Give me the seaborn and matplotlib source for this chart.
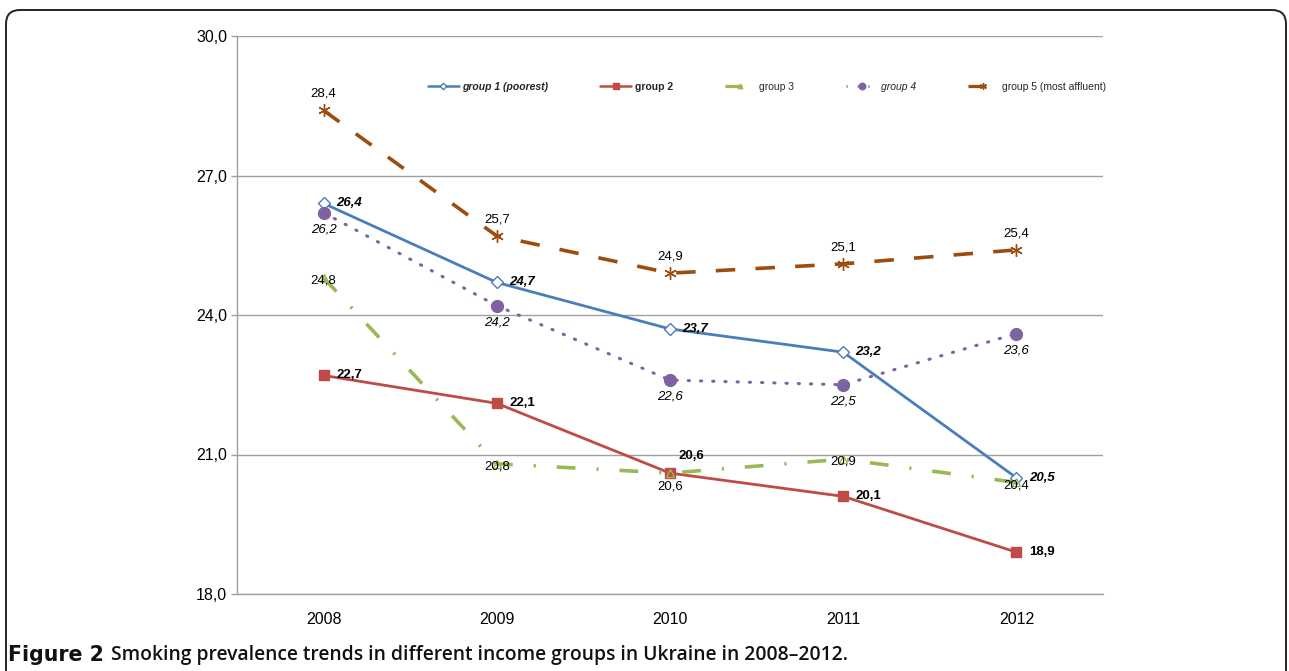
import matplotlib
matplotlib.use("Agg")
import matplotlib.pyplot as plt
from matplotlib.lines import Line2D
from matplotlib.patches import FancyBboxPatch
from matplotlib.transforms import IdentityTransform
from matplotlib.ticker import FuncFormatter
import seaborn as sns
import pandas as pd

# Smoking prevalence (%) by income group, Ukraine 2008-2012
years = ["2008", "2009", "2010", "2011", "2012"]
group1 = [26.4, 24.7, 23.7, 23.2, 20.5]
group2 = [22.7, 22.1, 20.6, 20.1, 18.9]
group3 = [24.8, 20.8, 20.6, 20.9, 20.4]
group4 = [26.2, 24.2, 22.6, 22.5, 23.6]
group5 = [28.4, 25.7, 24.9, 25.1, 25.4]
names = ["group 1 (poorest)", "group 2", "group 3", "group 4",
         "group 5 (most affluent)"]
y_ticks = [18.0, 21.0, 24.0, 27.0, 30.0]

sns.set_style("white")
plt.rcParams["font.family"] = ["Liberation Sans", "DejaVu Sans"]

fig = plt.figure(figsize=(12.89, 6.71), dpi=100)
ax = fig.add_axes([237 / 1289, 77 / 671, 866 / 1289, 558 / 671])

x = list(range(len(years)))
series = [group1, group2, group3, group4, group5]

styles = [
    dict(color="#4A7EBB", lw=2.0, ls="-", marker="D", ms=6,
         mfc="white", mec="#4A7EBB", mew=1.0),
    dict(color="#BE4B48", lw=2.0, ls="-", marker="s", ms=7.5,
         mfc="#BE4B48", mec="#BE4B48", mew=1.0),
    dict(color="#98B954", lw=2.6, ls=(0, (5.2, 5.8, 0.6, 5.8)), marker="^",
         ms=6, mfc="none", mec="#98B954", mew=1.0),
    dict(color="#7F62A1", lw=2.2, ls=(0, (0.4, 3.6)), marker="o", ms=8.5,
         mfc="#7F62A1", mec="#7F62A1", mew=1.0),
    dict(color="#9C4D0E", lw=2.6, ls=(0, (5.4, 5.6)), marker=(6, 2, 0),
         ms=9, mfc="#9C4D0E", mec="#9C4D0E", mew=1.0),
]

for vals, st, name in zip(series, styles, names):
    df = pd.DataFrame({"year": x, "value": vals})
    line_ax = sns.lineplot(data=df, x="year", y="value", ax=ax,
                           color=st["color"], linewidth=st["lw"],
                           marker=st["marker"], markersize=st["ms"],
                           markerfacecolor=st["mfc"],
                           markeredgecolor=st["mec"],
                           markeredgewidth=st["mew"], legend=False)
    ln = line_ax.lines[-1]
    ln.set_linestyle(st["ls"])
    ln.set_dash_capstyle("round" if st["marker"] == "o" else "butt")

def fmt(v):
    return f"{v:.1f}".replace(".", ",")

LBL = 9.5
# value labels
for i, v in enumerate(group1):
    ax.annotate(fmt(v), (i, v), xytext=(9, 0), textcoords="offset points",
                ha="left", va="center", fontsize=LBL, fontweight="bold",
                fontstyle="italic", color="black")
for i, v in enumerate(group2):
    off = (6, 12) if i == 2 else (9, 0)
    ax.annotate(fmt(v), (i, v), xytext=off, textcoords="offset points",
                ha="left", va="center", fontsize=LBL, fontweight="bold",
                color="black")
for i, v in enumerate(group3):
    off = (0, -10) if i == 2 else (0, -2)
    ax.annotate(fmt(v), (i, v), xytext=off, textcoords="offset points",
                ha="center", va="center", fontsize=LBL, color="black")
for i, v in enumerate(group4):
    ax.annotate(fmt(v), (i, v), xytext=(0, -12), textcoords="offset points",
                ha="center", va="center", fontsize=LBL, fontstyle="italic",
                color="black")
for i, v in enumerate(group5):
    ax.annotate(fmt(v), (i, v), xytext=(0, 12), textcoords="offset points",
                ha="center", va="center", fontsize=LBL, color="black")

# axes
ax.set_xlim(-0.5, 4.5)
ax.set_ylim(18, 30)
ax.set_xticks(x)
ax.set_xticklabels(years)
ax.set_yticks(y_ticks)
ax.yaxis.set_major_formatter(FuncFormatter(lambda v, p: fmt(v)))
ax.set_xlabel("")
ax.set_ylabel("")
ax.yaxis.grid(True, color="#A0A0A0", linewidth=1.0)
ax.xaxis.grid(False)
ax.set_axisbelow(True)
for s in ["top", "right"]:
    ax.spines[s].set_visible(False)
for s in ["left", "bottom"]:
    ax.spines[s].set_color("#A0A0A0")
    ax.spines[s].set_linewidth(1.0)
ax.tick_params(axis="y", length=4, width=1, color="#A0A0A0", pad=3,
               labelsize=11.5, labelcolor="black", left=True)
ax.tick_params(axis="x", length=0, pad=13, labelsize=11.5, labelcolor="black")

# legend
handles = []
for st in styles:
    handles.append(Line2D([0], [0], color=st["color"], lw=st["lw"] * 0.9,
                          ls=st["ls"], marker=st["marker"],
                          ms=st["ms"] * 0.55, mfc=st["mfc"], mec=st["mec"]))
leg = fig.legend(handles, names, loc="center",
                 bbox_to_anchor=(767 / 1289, 1 - 87 / 671), ncol=5,
                 frameon=False, fontsize=7.5, handlelength=3.0,
                 handletextpad=0.3, columnspacing=5.0)
text_styles = [("bold", "italic"), ("bold", "normal"), ("normal", "normal"),
               ("normal", "italic"), ("normal", "normal")]
for t, (w, s) in zip(leg.get_texts(), text_styles):
    t.set_fontweight(w)
    t.set_fontstyle(s)

# caption
t1 = fig.text(8 / 1289, 1 - 655 / 671, "Figure 2", fontsize=14.8,
              fontweight="bold", family=["DejaVu Sans"], va="center",
              ha="left", color="#111111")
fig.canvas.draw()
bb = t1.get_window_extent(renderer=fig.canvas.get_renderer())
fig.text((bb.x1 + 7) / 1289, 1 - 655 / 671,
         "Smoking prevalence trends in different income groups in Ukraine in 2008\u20132012.",
         fontsize=13.9, fontweight="semibold", family=["Open Sans", "DejaVu Sans"],
         va="center", ha="left", color="#111111")

# rounded frame around the figure
frame = FancyBboxPatch((6, -30), 1280, 671 - 10 + 30,
                       boxstyle="round,pad=0,rounding_size=14",
                       transform=IdentityTransform(), fill=False,
                       edgecolor="#222222", linewidth=1.4)
fig.patches.append(frame)

fig.savefig("out.png", dpi=100)
